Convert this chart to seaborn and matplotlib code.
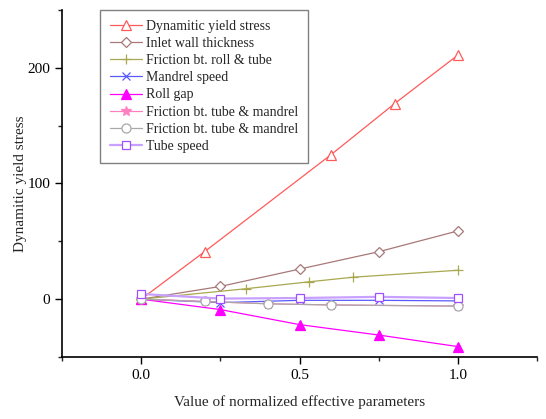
import matplotlib
matplotlib.use("Agg")
import matplotlib.pyplot as plt
import seaborn as sns
import pandas as pd

sns.set_style("ticks")
plt.rcParams['font.family'] = ['Liberation Serif', 'DejaVu Serif']

# data
dys_x = [0.0, 0.2, 0.6, 0.8, 1.0]
dys_y = [0, 41, 125, 169, 211]
iwt_x = [0.0, 0.25, 0.5, 0.75, 1.0]
iwt_y = [0, 11, 26, 41, 59]
frt_x = [0.0, 0.33, 0.53, 0.67, 1.0]
frt_y = [0, 9, 15, 19, 25]
ms_x = [0.0, 0.25, 0.5, 0.75, 1.0]
ms_y = [0, -3, -1, -1, -1.5]
rg_x = [0.0, 0.25, 0.5, 0.75, 1.0]
rg_y = [0, -9, -22, -31, -41]
ftm1_x = [0.0, 0.2, 0.4, 0.6, 1.0]
ftm1_y = [0, -2, -4, -5, -6]
ftm2_x = [0.0, 0.2, 0.4, 0.6, 1.0]
ftm2_y = [0, -2, -4, -5, -6]
ts_x = [0.0, 0.25, 0.5, 0.75, 1.0]
ts_y = [4.5, 0.5, 1, 2, 1]

series = [
    ("Dynamitic yield stress", dys_x, dys_y, "#FF5A5A", "^", "white", 6.5),
    ("Inlet wall thickness", iwt_x, iwt_y, "#A87878", "D", "white", 5),
    ("Friction bt. roll & tube", frt_x, frt_y, "#A8A850", "+", "none", 6.5),
    ("Mandrel speed", ms_x, ms_y, "#5A5AFF", "x", "none", 6),
    ("Roll gap", rg_x, rg_y, "#FF00FF", "^", "#FF00FF", 6.5),
    ("Friction bt. tube & mandrel", ftm1_x, ftm1_y, "#FF80C0", "*", "#FF80C0", 7),
    ("Friction bt. tube & mandrel ", ftm2_x, ftm2_y, "#A8A8A8", "o", "white", 6.5),
    ("Tube speed", ts_x, ts_y, "#A050FF", "s", "white", 6),
]

fig = plt.figure(figsize=(5.46, 4.19), dpi=100)
ax = fig.add_axes([62/546, 1-357/419, (537-62)/546, (357-10)/419])

for i, (name, xs, ys, c, m, mfc, ms) in enumerate(series):
    df = pd.DataFrame({"x": xs, "y": ys})
    lc = c
    lw = 0.9
    if name == "Tube speed":
        lc = "#C8A0FF"
        lw = 1.6
    sns.lineplot(data=df, x="x", y="y", ax=ax, color=lc, lw=lw,
                 marker=m, markersize=ms, markerfacecolor=mfc,
                 markeredgecolor=c, markeredgewidth=0.9,
                 label=name.strip(), sort=False, zorder=2 + i)

ax.set_xlim(-0.25, 1.25)
ax.set_ylim(-50, 250)
ax.set_xticks([0.0, 0.5, 1.0])
ax.set_xticklabels(["0.0", "0.5", "1.0"])
ax.set_xticks([-0.25, 0.25, 0.75, 1.25], minor=True)
ax.set_yticks([0, 100, 200])
ax.set_yticks([-50, 50, 150, 250], minor=True)
ax.tick_params(axis='both', which='major', direction='out', length=5, width=1, labelsize=11, colors='black')
ax.tick_params(axis='both', which='minor', direction='out', length=3, width=1)
for s in ['top', 'right']:
    ax.spines[s].set_visible(False)
for s in ['left', 'bottom']:
    ax.spines[s].set_color('black')
    ax.spines[s].set_linewidth(1.2)

ax.set_xlabel("Value of normalized effective parameters", fontsize=11, labelpad=10)
ax.set_ylabel("Dynamitic yield stress", fontsize=11, labelpad=0)

leg = ax.legend(loc='upper left', bbox_to_anchor=(0.08, 1.0), borderaxespad=0,
                fontsize=10, frameon=True, fancybox=False, framealpha=1,
                edgecolor='#808080', handlelength=2.3, labelspacing=0.3,
                handletextpad=0.3, borderpad=0.7)
leg.get_frame().set_linewidth(1.0)

fig.savefig("out.png", dpi=100)
